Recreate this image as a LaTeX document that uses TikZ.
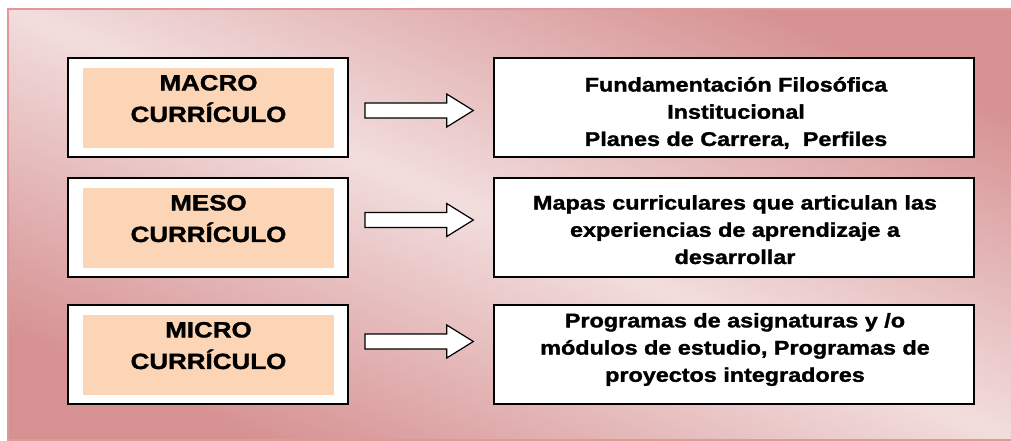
\documentclass[tikz,border=0pt]{standalone}
\usepackage{fontspec}
\setmainfont[FakeStretch=1.18, BoldFeatures={FakeBold=1.5}]{Liberation Sans}

\definecolor{panellight}{RGB}{242,221,221}
\definecolor{paneldark}{RGB}{214,145,146}
\definecolor{panelline}{RGB}{224,152,152}
\definecolor{peach}{RGB}{251,213,181}

\begin{document}
\begin{tikzpicture}[x=1pt,y=-1pt,
    levelbox/.style={draw=black, line width=2pt, fill=white, inner sep=0pt,
        minimum width=280pt, minimum height=99pt},
    levelfill/.style={fill=peach, inner sep=0pt, minimum width=251pt, minimum height=80pt},
    leveltext/.style={inner sep=0pt, align=center, font=\fontsize{22}{31.6}\selectfont\bfseries},
    descbox/.style={draw=black, line width=2pt, fill=white, inner sep=0pt,
        minimum width=480pt, minimum height=99pt},
    desctext/.style={inner sep=0pt, align=center, font=\fontsize{19.8}{27.2}\selectfont\bfseries},
    blockarrow/.style={draw=black, line width=1.2pt, fill=white, line join=miter}]

    \useasboundingbox (0,0) rectangle (1011,441);

    % draw background panel
    \draw[panelline, line width=2.5pt, top color=paneldark, bottom color=paneldark,
        middle color=panellight, shading angle=-23.3] (8,9) rectangle (1016,440);

    % draw level boxes
    \node[levelbox] (macro) at (208,107.5) {};
    \node[levelbox] (meso) at (208,227.5) {};
    \node[levelbox] (micro) at (208,354.5) {};
    \node[levelfill] (macrofill) at (208.5,108) {};
    \node[levelfill] (mesofill) at (208.5,228) {};
    \node[levelfill] (microfill) at (208.5,355) {};

    % add level labels
    \node[leveltext] (macrotxt) at (208.5,98.6) {MACRO\\CURRÍCULO};
    \node[leveltext] (mesotxt) at (208.5,218.6) {MESO\\CURRÍCULO};
    \node[leveltext] (microtxt) at (208.5,345.6) {MICRO\\CURRÍCULO};

    % draw description boxes
    \node[descbox] (macrodesc) at (734,107.5) {};
    \node[descbox] (mesodesc) at (734,227.5) {};
    \node[descbox] (microdesc) at (734,354.5) {};

    % add descriptions
    \node[desctext] (macrodesctxt) at (736,113)
        {Fundamentación Filosófica\\Institucional\\Planes de Carrera,~ Perfiles};
    \node[desctext] (mesodesctxt) at (735,229.7)
        {Mapas curriculares que articulan las\\experiencias de aprendizaje a\\desarrollar};
    \node[desctext] (microdesctxt) at (735,349.5)
        {Programas de asignaturas y /o\\módulos de estudio, Programas de\\proyectos integradores};

    % draw block arrows
    \draw[blockarrow] (365,103) -- ++(81.7,0) -- ++(0,-9) -- ++(26.6,16.5)
        -- ++(-26.6,16.5) -- ++(0,-9) -- ++(-81.7,0) -- cycle;
    \draw[blockarrow] (365,212.5) -- ++(81.7,0) -- ++(0,-9) -- ++(26.6,16.5)
        -- ++(-26.6,16.5) -- ++(0,-9) -- ++(-81.7,0) -- cycle;
    \draw[blockarrow] (365,334) -- ++(81.7,0) -- ++(0,-9) -- ++(26.6,16.5)
        -- ++(-26.6,16.5) -- ++(0,-9) -- ++(-81.7,0) -- cycle;

\end{tikzpicture}
\end{document}
